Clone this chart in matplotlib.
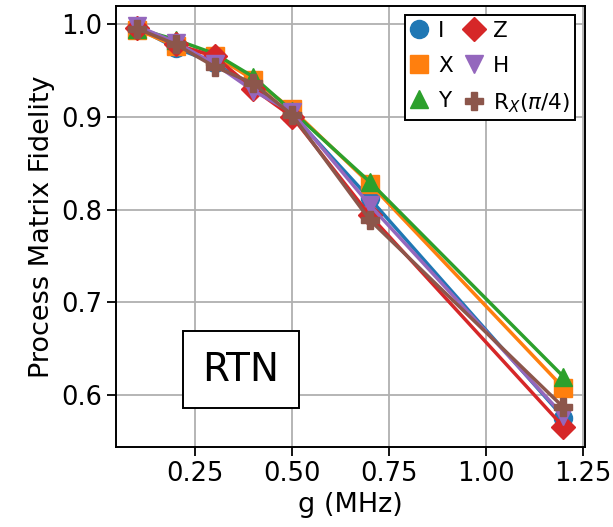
import matplotlib
matplotlib.use("Agg")
import matplotlib.pyplot as plt
from matplotlib.lines import Line2D

g_mhz = [0.1, 0.2, 0.3, 0.4, 0.5, 0.7, 1.2]
labels = ["I", "X", "Y", "Z", "H", r"R$_X(\pi/4)$"]
fid_I = [0.996, 0.974, 0.958, 0.932, 0.903, 0.812, 0.576]
fid_X = [0.994, 0.976, 0.966, 0.940, 0.908, 0.828, 0.608]
fid_Y = [0.995, 0.983, 0.968, 0.943, 0.906, 0.830, 0.620]
fid_Z = [0.996, 0.978, 0.965, 0.930, 0.900, 0.794, 0.566]
fid_H = [0.998, 0.980, 0.957, 0.928, 0.905, 0.805, 0.578]
fid_R = [0.995, 0.978, 0.954, 0.936, 0.902, 0.789, 0.587]
series = [fid_I, fid_X, fid_Y, fid_Z, fid_H, fid_R]
markers = ["o", "s", "^", "D", "v", "P"]
colors = ["#1f77b4", "#ff7f0e", "#2ca02c", "#d62728", "#9467bd", "#8c564b"]

fig = plt.figure(figsize=(6.13, 5.27), dpi=100)
ax = fig.add_axes([0.189, 0.152, 0.765, 0.837])

handles = []
for vals, m, c, lab in zip(series, markers, colors, labels):
    ms = 12.5 if m == "D" else 13
    ax.plot(g_mhz, vals, marker=m, color=c, lw=2.5, ms=ms, label=lab)
    handles.append(Line2D([], [], marker=m, color=c, ls="none", ms=ms, label=lab))

ax.grid(True, color="#b0b0b0", lw=1.3)
ax.set_axisbelow(True)
ax.set_xticks([0.25, 0.5, 0.75, 1.0, 1.25])
ax.set_yticks([0.6, 0.7, 0.8, 0.9, 1.0])
ax.tick_params(labelsize=18.5, length=6.5, width=1.3)
for s in ax.spines.values():
    s.set_linewidth(1.4)
ax.set_xlabel("g (MHz)", fontsize=19.5)
ax.set_ylabel("Process Matrix Fidelity", fontsize=19.5)

leg = ax.legend(handles=handles, loc="upper right", ncol=2, fontsize=15.5,
                handlelength=0.8, handletextpad=0.5, columnspacing=0.55,
                labelspacing=0.7, borderpad=0.25, fancybox=False,
                framealpha=1, edgecolor="black", borderaxespad=0.45)
leg.get_frame().set_linewidth(1.4)

ax.text(0.2665, 0.175, "RTN", transform=ax.transAxes, fontsize=28,
        ha="center", va="center",
        bbox=dict(boxstyle="square,pad=0.5", facecolor="white",
                  edgecolor="black", lw=1.4))

fig.savefig("out.png", dpi=100)
